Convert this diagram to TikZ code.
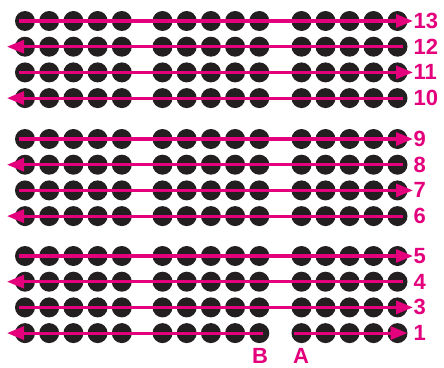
\documentclass[tikz,border=0pt]{standalone}
\usepackage{fontspec}
\setmainfont{Liberation Sans}[BoldFont={Liberation Sans Bold}]
\usetikzlibrary{arrows.meta}
\definecolor{pk}{HTML}{E4007C}
\definecolor{dk}{HTML}{231F20}
\tikzset{
  dot/.style={circle, fill=dk, draw=none, minimum size=20pt, inner sep=0pt},
  pkline/.style={draw=pk, line width=3.1pt, -{Triangle[length=17pt,width=13pt]}},
  lab/.style={text=pk, font=\fontsize{22}{22}\selectfont\bfseries, inner sep=0pt}
}
\begin{document}
\begin{tikzpicture}[x=1pt,y=-1pt]
\useasboundingbox (0,0) rectangle (444,367);
\fill[white] (0,0) rectangle (444,367);
\foreach \y/\r in {21/13, 46.7/12, 72.4/11, 98.1/10, 139/9, 164.7/8, 190.4/7, 216.1/6, 256/5, 281.7/4, 307.4/3, 333.1/1} {
  \foreach \x [count=\c] in {25,49.2,73.4,97.6,121.8,162.5,186.7,210.9,235.1,259.3,301.5,325.5,349.5,373.5,397.5}
    \node[dot] (d\r-\c) at (\x,\y) {};
  \node[lab, anchor=west] (l\r) at (413.5,\y) {\r};
}
% right-going rows
\foreach \r in {13,11,9,7,5,3}
  \draw[pkline] ([xshift=-6pt]d\r-1.center) -- ([xshift=15.5pt]d\r-15.center);
% left-going rows
\foreach \r in {12,10,8,6,4}
  \draw[pkline] ([xshift=5.5pt]d\r-15.center) -- ([xshift=-18pt]d\r-1.center);
% row 1 split
\draw[pkline] ([xshift=4pt]d1-10.center) -- ([xshift=-18pt]d1-1.center);
\draw[pkline] ([xshift=-8pt]d1-11.center) -- ([xshift=10pt]d1-15.center);
\node[lab] (lB) at (260,355.5) {B};
\node[lab] (lA) at (301,355.5) {A};
\end{tikzpicture}
\end{document}
